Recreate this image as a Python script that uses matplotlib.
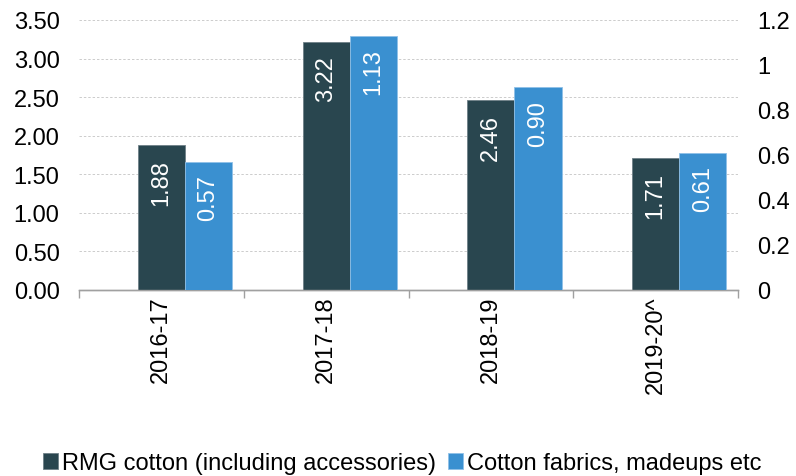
import matplotlib
matplotlib.use('Agg')
import matplotlib.pyplot as plt
import numpy as np

plt.rcParams['font.family'] = ['Liberation Sans', 'DejaVu Sans']

years = ['2016-17', '2017-18', '2018-19', '2019-20^']
rmg = [1.88, 3.22, 2.46, 1.71]
fabrics = [0.57, 1.13, 0.90, 0.61]

dark = '#29464f'
blue = '#3a90d0'
fs = 17

fig = plt.figure(figsize=(7.96, 4.77), dpi=100)
ax = fig.add_axes([0.0992, 0.390, 0.828, 0.566])
ax2 = ax.twinx()

x = np.arange(len(years))
w = 0.286

b1 = ax.bar(x, rmg, w, color=dark, edgecolor='#6f8087', linewidth=0.6, zorder=3,
            label='RMG cotton (including accessories)')
b2 = ax2.bar(x + w, fabrics, w, color=blue, edgecolor='#8fc0e8', linewidth=0.6, zorder=3,
             label='Cotton fabrics, madeups etc')

for rect, v in zip(b1, rmg):
    ax.annotate('%.2f' % v, (rect.get_x() + rect.get_width() / 2, v), xytext=(0, -10),
                textcoords='offset points', ha='center', va='top', rotation=90,
                color='white', fontsize=fs)
for rect, v in zip(b2, fabrics):
    ax2.annotate('%.2f' % v, (rect.get_x() + rect.get_width() / 2, v), xytext=(0, -9),
                 textcoords='offset points', ha='center', va='top', rotation=90,
                 color='white', fontsize=fs)

ax.set_xlim(-0.5, 3.5)
ax.set_ylim(0, 3.5)
ax.set_yticks(np.arange(0, 3.51, 0.5))
ax.set_yticklabels(['%.2f' % t for t in np.arange(0, 3.51, 0.5)], fontsize=fs)
ax2.set_ylim(0, 1.2)
ax2.set_yticks([0, 0.2, 0.4, 0.6, 0.8, 1.0, 1.2])
ax2.set_yticklabels(['0', '0.2', '0.4', '0.6', '0.8', '1', '1.2'], fontsize=fs)

ax.grid(axis='y', linestyle=(0, (2.5, 2)), color='#cccccc', linewidth=0.7, zorder=0)
ax.set_axisbelow(True)

ax.set_xticks(x)
ax.set_xticklabels(years, rotation=90, fontsize=fs)
ax.tick_params(axis='x', length=0, pad=4)
ax.set_xticks(np.arange(-0.5, 3.6, 1), minor=True)
ax.tick_params(axis='x', which='minor', length=6, color='#a0a0a0', width=1)
ax.tick_params(axis='y', length=0, pad=14)
ax2.tick_params(axis='y', length=0, pad=14)

for a in (ax, ax2):
    for s in ['top', 'left', 'right']:
        a.spines[s].set_visible(False)
    a.spines['bottom'].set_color('#a0a0a0')
    a.spines['bottom'].set_linewidth(1)

h1, l1 = ax.get_legend_handles_labels()
h2, l2 = ax2.get_legend_handles_labels()
fig.legend(h1 + h2, l1 + l2, loc='center', bbox_to_anchor=(0.505, 0.027), ncol=2,
           frameon=False, fontsize=fs, handlelength=0.65, handleheight=0.65,
           handletextpad=0.15, columnspacing=0.5, borderaxespad=0, borderpad=0)

fig.savefig('out.png', dpi=100)
